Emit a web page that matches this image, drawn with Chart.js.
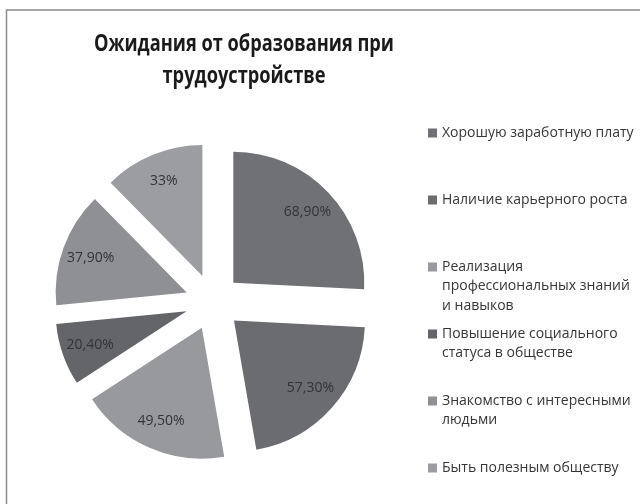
<!DOCTYPE html>
<html lang="ru">
<head>
<meta charset="utf-8">
<title>Ожидания от образования при трудоустройстве</title>
<script src="https://cdn.jsdelivr.net/npm/chart.js@4.4.1/dist/chart.umd.min.js"></script>
<style>
  html, body { margin: 0; padding: 0; background: #fff; }
  #wrap { width: 640px; height: 504px; position: relative; overflow: hidden; }
</style>
</head>
<body>
<div id="wrap"><canvas id="expectChart" width="640" height="504"></canvas></div>
<script>
const titleLines = ['Ожидания от образования при', 'трудоустройстве'];

const categories = [
  'Хорошую заработную плату',
  'Наличие карьерного роста',
  'Реализация профессиональных знаний и навыков',
  'Повышение социального статуса в обществе',
  'Знакомство с интересными людьми',
  'Быть полезным обществу'
];

const shares = [68.9, 57.3, 49.5, 20.4, 37.9, 33];

const sliceColors = ['#707175', '#6b6c70', '#98999d', '#646569', '#8f9094', '#9c9da1'];

const FONT = '"Open Sans", "Noto Sans", sans-serif';
const GAP = 28; // how far each slice is pulled out

function formatShare(v) {
  return Number.isInteger(v) ? v + '%' : v.toFixed(2).replace('.', ',') + '%';
}

function wrapText(ctx, text, maxWidth) {
  const words = text.split(' ');
  const lines = [];
  let line = '';
  words.forEach(w => {
    const test = line ? line + ' ' + w : w;
    if (line && ctx.measureText(test).width > maxWidth) {
      lines.push(line);
      line = w;
    } else {
      line = test;
    }
  });
  if (line) lines.push(line);
  return lines;
}

// pull every slice out along its bisector, same distance for all
const explodePlugin = {
  id: 'explode',
  afterUpdate(chart) {
    const baseDraw = Chart.ArcElement.prototype.draw;
    chart.getDatasetMeta(0).data.forEach(arc => {
      arc.draw = function (ctx) {
        const mid = (this.startAngle + this.endAngle) / 2;
        ctx.save();
        ctx.translate(Math.cos(mid) * GAP, Math.sin(mid) * GAP);
        baseDraw.call(this, ctx);
        ctx.restore();
      };
    });
  }
};

const frameAndTextPlugin = {
  id: 'frameAndText',
  beforeDraw(chart) {
    const ctx = chart.ctx;
    ctx.save();
    ctx.strokeStyle = '#8c8c8c';
    ctx.lineWidth = 1.5;
    ctx.beginPath();
    ctx.moveTo(6.5, 504);
    ctx.lineTo(6.5, 10);
    ctx.lineTo(640, 10);
    ctx.stroke();
    ctx.restore();
  },
  afterDatasetsDraw(chart) {
    const ctx = chart.ctx;
    const meta = chart.getDatasetMeta(0);
    ctx.save();
    ctx.font = '14px ' + FONT;
    ctx.fillStyle = '#333333';
    ctx.textAlign = 'center';
    ctx.textBaseline = 'middle';
    meta.data.forEach((arc, i) => {
      const mid = (arc.startAngle + arc.endAngle) / 2;
      const r = GAP + arc.outerRadius * 0.78;
      ctx.fillText(formatShare(shares[i]), arc.x + Math.cos(mid) * r, arc.y + Math.sin(mid) * r);
    });
    ctx.restore();
  },
  afterDraw(chart) {
    const ctx = chart.ctx;
    ctx.save();

    // title: narrow and tall like the original office font
    ctx.font = 'bold 23px ' + FONT;
    ctx.fillStyle = '#1a1a1a';
    ctx.textAlign = 'center';
    ctx.textBaseline = 'middle';
    const sx = 300 / ctx.measureText(titleLines[0]).width;
    titleLines.forEach((t, i) => {
      ctx.save();
      ctx.translate(244, 44 + i * 32);
      ctx.scale(sx, 1);
      ctx.fillText(t, 0, 0);
      ctx.restore();
    });

    // legend
    ctx.font = '14px ' + FONT;
    ctx.textAlign = 'left';
    categories.forEach((cat, i) => {
      const y0 = 133 + i * 67;
      ctx.fillStyle = sliceColors[i];
      ctx.fillRect(428, y0 - 4.5, 9, 9);
      ctx.fillStyle = '#363636';
      wrapText(ctx, cat, 196).forEach((line, j) => ctx.fillText(line, 442, y0 + j * 19.5));
    });
    ctx.restore();
  }
};

new Chart(document.getElementById('expectChart'), {
  type: 'pie',
  data: {
    labels: categories,
    datasets: [{
      data: shares,
      backgroundColor: sliceColors,
      borderWidth: 0
    }]
  },
  options: {
    responsive: false,
    animation: false,
    events: [],
    radius: 131,
    layout: { padding: { left: 20, right: 234, top: 112, bottom: 12 } },
    plugins: {
      legend: { display: false },
      title: { display: false },
      tooltip: { enabled: false }
    }
  },
  plugins: [explodePlugin, frameAndTextPlugin]
});
</script>
</body>
</html>
